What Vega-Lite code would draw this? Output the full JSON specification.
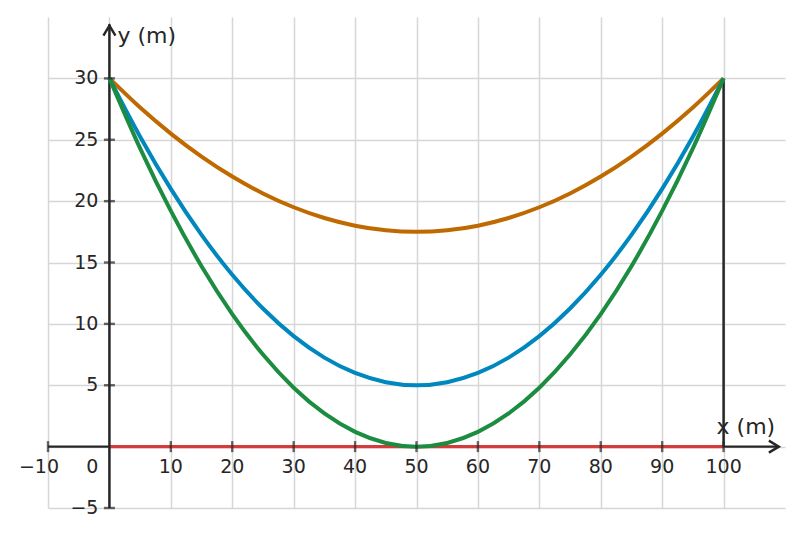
{
  "$schema": "https://vega.github.io/schema/vega-lite/v6.json",
  "description": "Cable shapes between two 30 m supports 100 m apart, with different sags.",
  "width": 737,
  "height": 491,
  "autosize": {"type": "none"},
  "padding": {"left": 48, "top": 17, "right": 18, "bottom": 29},
  "data": {"values": [{}]},
  "config": {
    "view": {"stroke": null},
    "font": "DejaVu Sans",
    "axis": {
      "labels": false,
      "ticks": false,
      "domain": false,
      "grid": true,
      "gridColor": "#d6d6d6",
      "gridWidth": 1.5
    },
    "text": {"font": "DejaVu Sans", "fontSize": 19, "color": "#262626"}
  },
  "datasets": {
    "curves": [
      {"x": 0, "y": 30, "cable": "flat"},
      {"x": 5, "y": 27.625, "cable": "flat"},
      {"x": 10, "y": 25.5, "cable": "flat"},
      {"x": 15, "y": 23.625, "cable": "flat"},
      {"x": 20, "y": 22, "cable": "flat"},
      {"x": 25, "y": 20.625, "cable": "flat"},
      {"x": 30, "y": 19.5, "cable": "flat"},
      {"x": 35, "y": 18.625, "cable": "flat"},
      {"x": 40, "y": 18, "cable": "flat"},
      {"x": 45, "y": 17.625, "cable": "flat"},
      {"x": 50, "y": 17.5, "cable": "flat"},
      {"x": 55, "y": 17.625, "cable": "flat"},
      {"x": 60, "y": 18, "cable": "flat"},
      {"x": 65, "y": 18.625, "cable": "flat"},
      {"x": 70, "y": 19.5, "cable": "flat"},
      {"x": 75, "y": 20.625, "cable": "flat"},
      {"x": 80, "y": 22, "cable": "flat"},
      {"x": 85, "y": 23.625, "cable": "flat"},
      {"x": 90, "y": 25.5, "cable": "flat"},
      {"x": 95, "y": 27.625, "cable": "flat"},
      {"x": 100, "y": 30, "cable": "flat"},
      {"x": 0, "y": 30, "cable": "medium"},
      {"x": 5, "y": 25.25, "cable": "medium"},
      {"x": 10, "y": 21, "cable": "medium"},
      {"x": 15, "y": 17.25, "cable": "medium"},
      {"x": 20, "y": 14, "cable": "medium"},
      {"x": 25, "y": 11.25, "cable": "medium"},
      {"x": 30, "y": 9, "cable": "medium"},
      {"x": 35, "y": 7.25, "cable": "medium"},
      {"x": 40, "y": 6, "cable": "medium"},
      {"x": 45, "y": 5.25, "cable": "medium"},
      {"x": 50, "y": 5, "cable": "medium"},
      {"x": 55, "y": 5.25, "cable": "medium"},
      {"x": 60, "y": 6, "cable": "medium"},
      {"x": 65, "y": 7.25, "cable": "medium"},
      {"x": 70, "y": 9, "cable": "medium"},
      {"x": 75, "y": 11.25, "cable": "medium"},
      {"x": 80, "y": 14, "cable": "medium"},
      {"x": 85, "y": 17.25, "cable": "medium"},
      {"x": 90, "y": 21, "cable": "medium"},
      {"x": 95, "y": 25.25, "cable": "medium"},
      {"x": 100, "y": 30, "cable": "medium"},
      {"x": 0, "y": 30, "cable": "deep"},
      {"x": 5, "y": 24.3, "cable": "deep"},
      {"x": 10, "y": 19.2, "cable": "deep"},
      {"x": 15, "y": 14.7, "cable": "deep"},
      {"x": 20, "y": 10.8, "cable": "deep"},
      {"x": 25, "y": 7.5, "cable": "deep"},
      {"x": 30, "y": 4.8, "cable": "deep"},
      {"x": 35, "y": 2.7, "cable": "deep"},
      {"x": 40, "y": 1.2, "cable": "deep"},
      {"x": 45, "y": 0.3, "cable": "deep"},
      {"x": 50, "y": 0, "cable": "deep"},
      {"x": 55, "y": 0.3, "cable": "deep"},
      {"x": 60, "y": 1.2, "cable": "deep"},
      {"x": 65, "y": 2.7, "cable": "deep"},
      {"x": 70, "y": 4.8, "cable": "deep"},
      {"x": 75, "y": 7.5, "cable": "deep"},
      {"x": 80, "y": 10.8, "cable": "deep"},
      {"x": 85, "y": 14.7, "cable": "deep"},
      {"x": 90, "y": 19.2, "cable": "deep"},
      {"x": 95, "y": 24.3, "cable": "deep"},
      {"x": 100, "y": 30, "cable": "deep"}
    ],
    "xticks": [
      {"v": -10, "label": "−10"},
      {"v": 10, "label": "10"},
      {"v": 20, "label": "20"},
      {"v": 30, "label": "30"},
      {"v": 40, "label": "40"},
      {"v": 50, "label": "50"},
      {"v": 60, "label": "60"},
      {"v": 70, "label": "70"},
      {"v": 80, "label": "80"},
      {"v": 90, "label": "90"},
      {"v": 100, "label": "100"}
    ],
    "yticks": [
      {"v": -5, "label": "−5"},
      {"v": 5, "label": "5"},
      {"v": 10, "label": "10"},
      {"v": 15, "label": "15"},
      {"v": 20, "label": "20"},
      {"v": 25, "label": "25"},
      {"v": 30, "label": "30"}
    ]
  },
  "layer": [
    {
      "data": {"name": "curves"},
      "mark": {"type": "line", "strokeWidth": 3.5, "opacity": 0},
      "encoding": {
        "x": {"field": "x", "type": "quantitative", "title": null,
              "scale": {"domain": [-10, 110], "nice": false, "zero": false},
              "axis": {"values": [-10, 0, 10, 20, 30, 40, 50, 60, 70, 80, 90, 100]}},
        "y": {"field": "y", "type": "quantitative", "title": null,
              "scale": {"domain": [-5, 35], "nice": false, "zero": false},
              "axis": {"values": [-5, 0, 5, 10, 15, 20, 25, 30]}},
        "color": {"field": "cable", "type": "nominal", "legend": null,
                  "scale": {"domain": ["flat", "medium", "deep"], "range": ["#bf6a00", "#0087be", "#1b8c40"]}}
      }
    },
    {
      "mark": {"type": "rule", "color": "#262626", "strokeWidth": 2.2},
      "encoding": {"x": {"datum": -10}, "x2": {"datum": 109}, "y": {"datum": 0}}
    },
    {
      "mark": {"type": "rule", "color": "#d43c3c", "strokeWidth": 3.2},
      "encoding": {"x": {"datum": 0}, "x2": {"datum": 100}, "y": {"datum": 0}}
    },
    {
      "mark": {"type": "rule", "color": "#262626", "strokeWidth": 2.5},
      "encoding": {"x": {"datum": 0}, "y": {"datum": -5}, "y2": {"datum": 34.4}}
    },
    {
      "mark": {"type": "rule", "color": "#262626", "strokeWidth": 2.5},
      "encoding": {"x": {"datum": 100}, "y": {"datum": 0}, "y2": {"datum": 30}}
    },
    {
      "data": {"name": "curves"},
      "mark": {"type": "line", "strokeWidth": 4, "interpolate": "monotone"},
      "encoding": {
        "x": {"field": "x", "type": "quantitative", "title": null},
        "y": {"field": "y", "type": "quantitative", "title": null},
        "color": {"field": "cable", "type": "nominal", "legend": null},
        "order": {"field": "x", "type": "quantitative"}
      }
    },
    {
      "data": {"name": "xticks"},
      "mark": {"type": "tick", "orient": "vertical", "size": 11, "thickness": 2.4, "color": "#262626"},
      "encoding": {"x": {"field": "v", "type": "quantitative", "title": null}, "y": {"datum": 0}}
    },
    {
      "data": {"name": "yticks"},
      "mark": {"type": "tick", "orient": "horizontal", "size": 11, "thickness": 2.4, "color": "#262626"},
      "encoding": {"x": {"datum": 0}, "y": {"field": "v", "type": "quantitative", "title": null}}
    },
    {
      "mark": {"type": "point", "shape": "M-0.6,1L0,0L0.6,1", "filled": false, "size": 400, "strokeWidth": 2.4, "color": "#262626", "opacity": 1},
      "encoding": {"x": {"datum": 0}, "y": {"datum": 34.3}}
    },
    {
      "mark": {"type": "point", "shape": "M-0.6,1L0,0L0.6,1", "filled": false, "size": 400, "strokeWidth": 2.4, "angle": 90, "color": "#262626", "opacity": 1},
      "encoding": {"x": {"datum": 109}, "y": {"datum": 0}}
    },
    {
      "data": {"name": "xticks"},
      "transform": [{"filter": "datum.v > 0"}],
      "mark": {"type": "text", "align": "center", "baseline": "middle", "dy": 20},
      "encoding": {"x": {"field": "v", "type": "quantitative"}, "y": {"datum": 0}, "text": {"field": "label"}}
    },
    {
      "data": {"name": "xticks"},
      "transform": [{"filter": "datum.v < 0"}],
      "mark": {"type": "text", "align": "center", "baseline": "middle", "dy": 20, "dx": -9},
      "encoding": {"x": {"field": "v", "type": "quantitative"}, "y": {"datum": 0}, "text": {"field": "label"}}
    },
    {
      "mark": {"type": "text", "align": "right", "baseline": "middle", "dy": 20, "dx": -11},
      "encoding": {"x": {"datum": 0}, "y": {"datum": 0}, "text": {"value": "0"}}
    },
    {
      "data": {"name": "yticks"},
      "mark": {"type": "text", "align": "right", "baseline": "middle", "dx": -11},
      "encoding": {"x": {"datum": 0}, "y": {"field": "v", "type": "quantitative"}, "text": {"field": "label"}}
    },
    {
      "mark": {"type": "text", "align": "left", "baseline": "middle", "dx": 8, "dy": 11.5, "fontSize": 22},
      "encoding": {"x": {"datum": 0}, "y": {"datum": 34.4}, "text": {"value": "y (m)"}}
    },
    {
      "mark": {"type": "text", "align": "left", "baseline": "middle", "dx": -7, "dy": -20, "fontSize": 22},
      "encoding": {"x": {"datum": 100}, "y": {"datum": 0}, "text": {"value": "x (m)"}}
    }
  ]
}
